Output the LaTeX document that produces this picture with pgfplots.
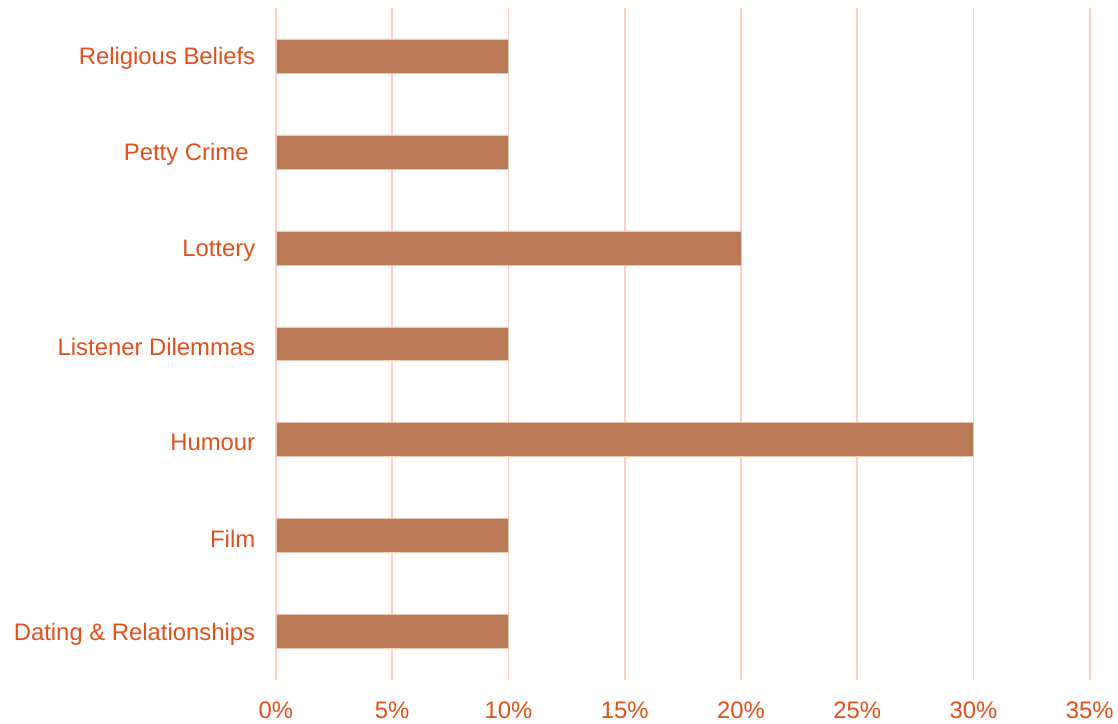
\documentclass[border=0pt]{standalone}
\usepackage{pgfplots}
\pgfplotsset{compat=1.18}
\usepackage{fontspec}
\setmainfont{Liberation Sans}
\definecolor{barc}{HTML}{BA7A56}
\definecolor{barb}{HTML}{F0C8B0}
\definecolor{gridc}{HTML}{FFD0BE}
\definecolor{txt}{HTML}{E0501A}
\newcommand{\pettycrime}{Petty Crime\kern5pt\null}
\begin{document}
\begin{tikzpicture}[x=1pt,y=1pt]
\begin{axis}[
  scale only axis,
  width=610.5pt, height=504pt,
  xmin=0, xmax=35, ymin=-0.5, ymax=6.5,
  xbar, bar width=25.5pt,
  axis line style={draw=none},
  major tick length=0pt,
  xtick={0,5,...,35},
  xticklabel={\pgfmathprintnumber{\tick}\%},
  ytick={0,...,6},
  yticklabels={Dating \& Relationships, Film, Humour, Listener Dilemmas, Lottery, \pettycrime, Religious Beliefs},
  xmajorgrids, ymajorgrids=false,
  grid style={gridc, line width=1.3pt},
  tick label style={font=\fontsize{17.9}{21}\selectfont, text=txt},
  /pgf/number format/assume math mode=true,
  xticklabel style={yshift=-13pt},
  yticklabel style={xshift=-12pt, yshift=-2pt},
  clip=false,
]
\addplot[fill=barc, draw=barb, line width=0.6pt] coordinates {
  (10,0) (10,1) (30,2) (10,3) (20,4) (10,5) (10,6)
};
\end{axis}
\path (current axis.south west) ++(-207pt,-30.75pt) rectangle ++(838.5pt,540.75pt);
\end{tikzpicture}
\end{document}
